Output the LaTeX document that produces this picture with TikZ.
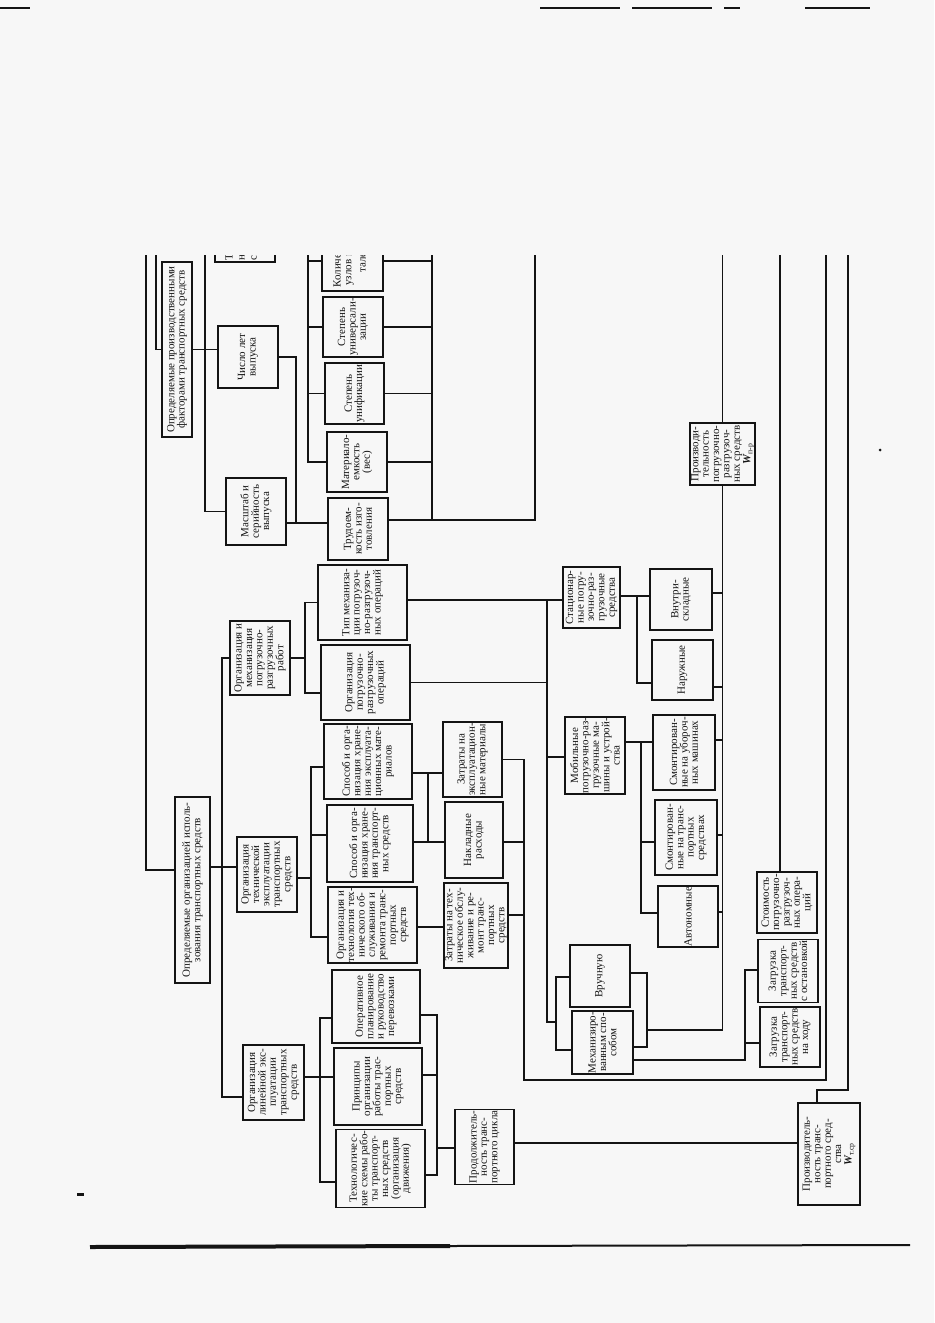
\documentclass[tikz,border=0pt]{standalone}
\usepackage{fontspec}
\setmainfont{Liberation Serif}
\begin{document}
\begin{tikzpicture}[x=0.5pt,y=-0.5pt]
\definecolor{paper}{RGB}{247,247,247}
\definecolor{ink}{RGB}{20,20,20}

% page
\fill[paper] (0,0) rectangle (934,1323);
\useasboundingbox (0,0) rectangle (934,1323);

% definitions
\tikzstyle{box} = [rectangle, draw=ink, line width=0.7pt, rotate=90, align=center, inner sep=0.5pt, outer sep=0pt, text=ink, font=\fontsize{5.5}{5.2}\selectfont]
\tikzstyle{cut} = [rotate=90, anchor=west, inner sep=0.5pt, text=ink, font=\fontsize{5.5}{5.2}\selectfont]
\tikzstyle{wire} = [draw=ink, line width=0.6pt]
\tikzset{dims/.style 2 args={minimum height=#1*0.5pt, minimum width=#2*0.5pt}}

\begin{scope}
\clip (0,255) rectangle (934,1323);

% headers
\node (A) [box, dims={30}{175}] at (177,349.5) {Определяемые производственными\\факторами транспортных средств};
\node (B) [box, dims={35}{186}] at (192.5,890) {Определяемые организацией исполь-\\зования транспортных средств};

% second row
\node (Tx) [box, dims={60}{60}] at (245,232) {};
\node (t1) [cut] at (229,262) {Т};
\node (t2) [cut] at (242,262) {н};
\node (t3) [cut] at (254,262) {с};
\node (C) [box, dims={60}{62}] at (248,357) {Число лет\\выпуска};
\node (D) [box, dims={60}{67}] at (256,511.5) {Масштаб и\\серийность\\выпуска};
\node (E) [box, dims={60}{74}] at (260,658) {Организация и\\механизация\\погрузочно-\\разгрузочных\\работ};
\node (F) [box, dims={60}{75}] at (267,874.5) {Организация\\технической\\эксплуатации\\транспортных\\средств};
\node (G) [box, dims={61}{75}] at (273.5,1082.5) {Организация\\линейной экс-\\плуатации\\транспортных\\средств};

% third row
\node (H) [box, dims={61}{60}] at (352.5,261) {};
\node (h1) [cut] at (337,289) {Количес};
\node (h2) [cut] at (350,287) {узлов и};
\node (h3) [cut] at (362,274) {талей};
\node (I) [box, dims={60}{60}] at (353,327) {Степень\\универсали-\\зации};
\node (J) [box, dims={59}{61}] at (354.5,393.5) {Степень\\унификации};
\node (K) [box, dims={60}{60}] at (357,462) {Материало-\\емкость\\(вес)};
\node (L) [box, dims={60}{62}] at (358,529) {Трудоем-\\кость изго-\\товления};
\node (M) [box, dims={89}{75}] at (362.5,602.5) {Тип механиза-\\ции погрузоч-\\но-разгрузоч-\\ных операций};
\node (N) [box, dims={89}{75}] at (365.5,682.5) {Организация\\погрузочно-\\разгрузочных\\операций};
\node (O) [box, dims={88}{75}] at (368,761.5) {Способ и орга-\\низация хране-\\ния эксплуата-\\ционных мате-\\риалов};
\node (P) [box, dims={86}{77}] at (370,843.5) {Способ и орга-\\низация хране-\\ния транспорт-\\ных средств};
\node (Q) [box, dims={89}{76}] at (372.5,925) {Организация и\\технология тех-\\нического об-\\служивания и\\ремонта транс-\\портных\\средств};
\node (R) [box, dims={88}{73}] at (376,1006.5) {Оперативное\\планирование\\и руководство\\перевозками};
\node (S) [box, dims={88}{77}] at (378,1086.5) {Принципы\\организации\\работы трас-\\портных\\средств};
\node (T) [box, dims={89}{77}] at (380.5,1168.5) {Технологичес-\\кие схемы рабо-\\ты транспорт-\\ных средств\\(организация\\движения)};

% costs and cycle
\node (V) [box, dims={59}{75}] at (472.5,759.5) {Затраты на\\эксплуатацион-\\ные материалы};
\node (U) [box, dims={58}{76}] at (474,840) {Накладные\\расходы};
\node (W) [box, dims={58}{85}] at (476,925.5) {Затраты на тех-\\ническое обслу-\\живание и ре-\\монт транс-\\портных\\средств};
\node (X) [box, dims={59}{74}] at (484.5,1147) {Продолжитель-\\ность транс-\\портного цикла};

% loading and unloading means
\node (Y) [box, dims={57}{61}] at (591.5,597.5) {Стационар-\\ные погру-\\зочно-раз-\\грузочные\\средства};
\node (Z) [box, dims={60}{75}] at (595,755.5) {Мобильные\\погрузочно-раз-\\грузочные ма-\\шины и устрой-\\ства};
\node (AA) [box, dims={62}{61}] at (681,599.5) {Внутри-\\складные};
\node (AB) [box, dims={61}{60}] at (682.5,670) {Наружные};
\node (AC) [box, dims={62}{75}] at (684,752.5) {Смонтирован-\\ные на убороч-\\ных машинах};
\node (AD) [box, dims={62}{75}] at (686,837.5) {Смонтирован-\\ные на транс-\\портных\\средствах};
\node (AE) [box, dims={60}{61}] at (688,916.5) {Автономные};
\node (AF) [box, dims={60}{62}] at (600,976) {Вручную};
\node (AG) [box, dims={61}{61}] at (602.5,1042.5) {Механизиро-\\ванным спо-\\собом};
\node (AH) [box, dims={60}{61}] at (787,902.5) {Стоимость\\погрузочно-\\разгрузоч-\\ных опера-\\ций};
\node (AI) [box, dims={60}{62}] at (788,971) {Загрузка\\транспорт-\\ных средств\\с остановкой};
\node (AJ) [box, dims={60}{60}] at (790,1037) {Загрузка\\транспорт-\\ных средств\\на ходу};

% output
\node (AK) [box, dims={61}{62}] at (722.5,454) {Производи-\\тельность\\погрузочно-\\разгрузоч-\\ных средств\\\textbf{\textit{W}}\textsubscript{п-р}};
\node (AL) [box, dims={62}{102}] at (829,1154) {Производитель-\\ность транс-\\портного сред-\\ства\\\textbf{\textit{W}}\textsubscript{т.ср}};

% lines coming from the next page
\coordinate (inA) at (156,250);
\coordinate (inB) at (146,250);
\coordinate (inT) at (205,250);
\coordinate (inH) at (308,250);
\coordinate (outH) at (432,250);
\coordinate (outL) at (535,250);
\coordinate (inAK) at (722.5,250);
\coordinate (inAH) at (780,250);
\coordinate (outC) at (826,250);
\coordinate (inAL) at (848,250);

% headers
\draw [wire] (inA) |- (A.north);
\draw [wire] (inB) |- (B.north |- 0,870);
\draw [wire] (inT) |- (D.north);
\draw [wire] (A.south) -- (C.north |- A.south);

% production factors
\coordinate (jL) at (296,523);
\draw [wire] (D.south |- jL) -- (L.north |- jL);
\draw [wire] (C.south) -| (jL);
\draw [wire] (inH) |- (K.north);
\foreach \n in {H,I,J} \draw [wire] (\n.north) -- (\n.north -| inH);
\foreach \n in {H,I,J,K} \draw [wire] (\n.south) -- (\n.south -| outH);
\draw [wire] (outH) |- (L.south |- 0,520) -- (outL |- 0,520) -- (outL);

% organisation
\coordinate (jG) at (222,1097);
\draw [wire] (B.south |- 0,867) -- (F.north |- 0,867);
\draw [wire] (E.north) -| (jG) -- (G.north |- jG);
\coordinate (jN) at (305,693);
\draw [wire] (E.south) -- (E.south -| jN);
\draw [wire] (M.north) -| (jN) -- (N.north |- jN);
\coordinate (jQ) at (311,937);
\draw [wire] (O.north |- 0,767) -| (jQ) -- (Q.north |- jQ);
\draw [wire] (P.north |- 0,835) -- (jQ |- 0,835);
\draw [wire] (F.south |- 0,878) -- (jQ |- 0,878);
\coordinate (jT) at (320,1182);
\draw [wire] (R.north |- 0,1018) -| (jT) -- (T.north |- jT);
\draw [wire] (G.south |- 0,1077) -- (S.north |- 0,1077);

% cycle and costs
\coordinate (jX) at (437,1175);
\draw [wire] (R.south |- 0,1015) -| (jX) -- (T.south |- jX);
\draw [wire] (S.south |- 0,1075) -- (jX |- 0,1075);
\draw [wire] (X.north |- 0,1148) -- (jX |- 0,1148);
\draw [wire] (X.south |- 0,1143) -- (AL.north |- 0,1143);
\coordinate (jU) at (428,842);
\draw [wire] (O.south |- 0,773) -- (V.north |- 0,773);
\draw [wire] (jU |- 0,773) -- (jU) -- (U.north |- jU);
\draw [wire] (P.south |- jU) -- (jU);
\draw [wire] (Q.south |- 0,927) -- (W.north |- 0,927);
\coordinate (jC) at (524,1080);
\draw [wire] (V.south) -| (jC) -- (outC |- jC) -- (outC);
\draw [wire] (U.south |- 0,842) -- (jC |- 0,842);
\draw [wire] (W.south |- 0,915) -- (jC |- 0,915);

% loading and unloading
\coordinate (jY) at (547,600);
\draw [wire] (M.south |- jY) -- (Y.north |- jY);
\draw [wire] (jY) |- (Z.north |- 0,757);
\draw [wire] (N.south) -- (N.south -| jY);
\coordinate (jAG) at (556,1050);
\draw [wire] (AF.north |- 0,977) -| (jAG) -- (AG.north |- jAG);
\draw [wire] (jY) |- (jAG |- 0,1022);
\coordinate (jAB) at (637,683);
\draw [wire] (Y.south |- 0,596) -- (AA.north |- 0,596);
\draw [wire] (jAB |- 0,596) -- (jAB) -- (AB.north |- jAB);
\coordinate (jAE) at (641,913);
\draw [wire] (Z.south |- 0,742) -- (AC.north |- 0,742);
\draw [wire] (jAE |- 0,742) -- (jAE) -- (AE.north |- jAE);
\draw [wire] (AD.north |- 0,842) -- (jAE |- 0,842);
\coordinate (jAF) at (647,1047);
\coordinate (jK) at (722.5,1030);
\draw [wire] (AF.south |- 0,973) -| (jAF) -- (AG.south |- jAF);
\draw [wire] (inAK) -- (AK.east);
\draw [wire] (AK.west) -- (jK) -- (jAF |- jK);
\foreach \n/\y in {AA/593, AB/687, AC/740, AD/835, AE/912} \draw [wire] (\n.south |- 0,\y) -- (jK |- 0,\y);
\coordinate (jAJ) at (745,1060);
\draw [wire] (AI.north |- 0,970) -| (jAJ) -- (AG.south |- jAJ);
\draw [wire] (AJ.north |- 0,1043) -- (jAJ |- 0,1043);
\draw [wire] (inAH) -- (AH.east -| inAH);
\draw [wire] (inAL) |- (817,1090) -- (AL.east -| 817,0);
\end{scope}

% page edge
\draw [ink, line width=2pt] (90,1247) -- (450,1246);
\draw [ink, line width=1pt] (450,1246) -- (910,1245);
\draw [ink, line width=0.6pt] (0,8) -- (30,8);
\draw [ink, line width=0.6pt, dash pattern=on 40pt off 6pt] (540,8) -- (740,8);
\draw [ink, line width=0.6pt] (805,8) -- (870,8);
\fill [ink] (77,1193) rectangle (84,1196);
\fill [ink] (880,450) circle (1.5);
\end{tikzpicture}
\end{document}
